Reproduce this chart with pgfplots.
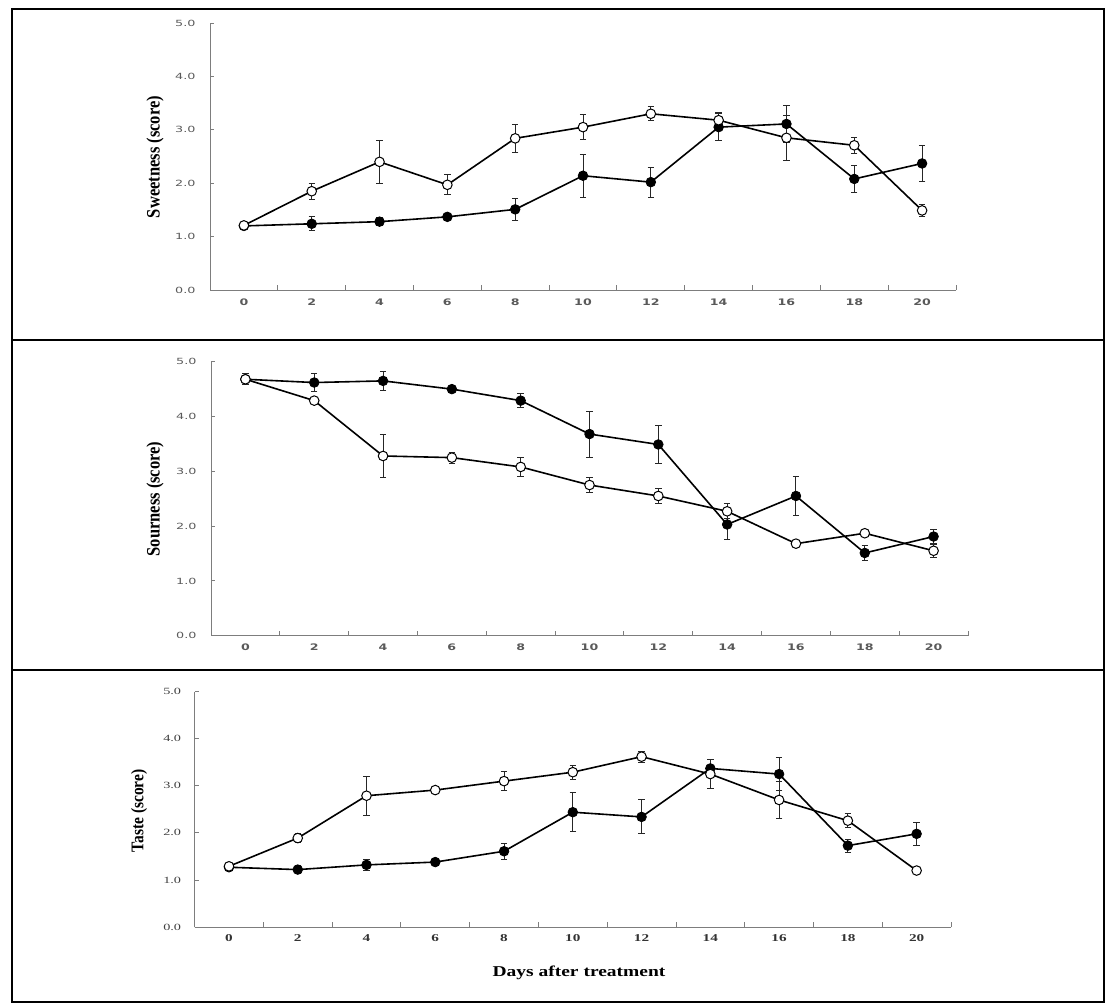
\documentclass[border=0pt]{standalone}
\usepackage{pgfplots}
\pgfplotsset{compat=1.18}
\usepackage{fontspec}
\setmainfont{Liberation Serif}
\newfontfamily\dejavu{DejaVu Sans}
\definecolor{axgray}{RGB}{125,125,125}
\definecolor{lblgray}{RGB}{90,90,90}

% tick label helpers
\newcommand\sx[1]{\textcolor{lblgray}{\scalebox{1.4}[1]{\dejavu\bfseries\fontsize{9}{10}\selectfont #1}}}
\newcommand\sy[1]{\textcolor{lblgray}{\scalebox{1.5}[1]{\dejavu\fontsize{8.5}{9}\selectfont #1}}}
\newcommand\tx[1]{\textcolor{black!80}{\scalebox{1.45}[1]{\bfseries\fontsize{10.5}{11}\selectfont #1}}}
\newcommand\ty[1]{\textcolor{black!75}{\scalebox{1.5}[1]{\fontsize{9.5}{10}\selectfont #1}}}

\pgfplotsset{
  panel/.style={
    scale only axis, anchor=south west,
    xmin=-1, xmax=21, ymin=0, ymax=5,
    axis lines=left,
    axis line style={-, draw=axgray, line width=0.9pt},
    xtick={0,2,...,20},
    minor xtick={1,3,...,21},
    major x tick style={draw=none},
    ytick={0,1,...,5},
    tick style={draw=axgray, line width=0.9pt},
    major tick length=4pt, minor tick length=5pt,
    tick align=inside,
    clip=false,
  },
  sanslabels/.style={
    xticklabels={\sx{0},\sx{2},\sx{4},\sx{6},\sx{8},\sx{10},\sx{12},\sx{14},\sx{16},\sx{18},\sx{20}},
    yticklabels={\sy{0.0},\sy{1.0},\sy{2.0},\sy{3.0},\sy{4.0},\sy{5.0}},
    xticklabel style={yshift=-5pt},
    yticklabel style={xshift=-11pt},
  },
  seriflabels/.style={
    xticklabels={\tx{0},\tx{2},\tx{4},\tx{6},\tx{8},\tx{10},\tx{12},\tx{14},\tx{16},\tx{18},\tx{20}},
    yticklabels={\ty{0.0},\ty{1.0},\ty{2.0},\ty{3.0},\ty{4.0},\ty{5.0}},
    xticklabel style={yshift=-4pt},
    yticklabel style={xshift=-10pt},
  },
  fser/.style={black, line width=1.6pt, mark=*, mark size=4.8pt,
    mark options={fill=black, draw=black, line width=0.8pt},
    error bars/.cd, y dir=both, y explicit,
    error bar style={line width=1pt, black!85},
    error mark options={rotate=90, mark size=3.2pt, line width=1pt, black!85}},
  oser/.style={black, line width=1.6pt, mark=*, mark size=4.8pt,
    mark options={fill=white, draw=black, line width=1pt},
    error bars/.cd, y dir=both, y explicit,
    error bar style={line width=1pt, black!85},
    error mark options={rotate=90, mark size=3.2pt, line width=1pt, black!85}},
}

\begin{document}
\begin{tikzpicture}
\useasboundingbox (0pt,0pt) rectangle (1108pt,-1005pt);
\fill[white] (0pt,0pt) rectangle (1108pt,-1005pt);

% ---------- Panel 1: Sweetness ----------
\begin{axis}[panel, sanslabels, at={(210pt,-290pt)}, width=746pt, height=267pt]
\addplot[fser] coordinates {
 (0,1.20) +- (0,0.05) (2,1.24) +- (0,0.13) (4,1.28) +- (0,0.08) (6,1.37) +- (0,0.03)
 (8,1.51) +- (0,0.20) (10,2.14) +- (0,0.40) (12,2.02) +- (0,0.28) (14,3.05) +- (0,0.25)
 (16,3.11) +- (0,0.34) (18,2.08) +- (0,0.25) (20,2.37) +- (0,0.34)};
\addplot[oser] coordinates {
 (0,1.21) +- (0,0.08) (2,1.85) +- (0,0.15) (4,2.40) +- (0,0.40) (6,1.97) +- (0,0.19)
 (8,2.84) +- (0,0.26) (10,3.05) +- (0,0.24) (12,3.30) +- (0,0.13) (14,3.18) +- (0,0.15)
 (16,2.85) +- (0,0.42) (18,2.71) +- (0,0.15) (20,1.49) +- (0,0.11)};
\end{axis}

% ---------- Panel 2: Sourness ----------
\begin{axis}[panel, sanslabels, at={(211pt,-635.7pt)}, width=757pt, height=274pt]
\addplot[fser] coordinates {
 (0,4.68) +- (0,0.10) (2,4.62) +- (0,0.16) (4,4.65) +- (0,0.17) (6,4.50) +- (0,0.07)
 (8,4.29) +- (0,0.13) (10,3.68) +- (0,0.42) (12,3.49) +- (0,0.35) (14,2.03) +- (0,0.27)
 (16,2.55) +- (0,0.35) (18,1.51) +- (0,0.14) (20,1.81) +- (0,0.13)};
\addplot[oser] coordinates {
 (0,4.68) +- (0,0.10) (2,4.29) +- (0,0.05) (4,3.28) +- (0,0.39) (6,3.25) +- (0,0.10)
 (8,3.08) +- (0,0.17) (10,2.75) +- (0,0.13) (12,2.55) +- (0,0.13) (14,2.27) +- (0,0.14)
 (16,1.68) +- (0,0.06) (18,1.87) +- (0,0.06) (20,1.55) +- (0,0.12)};
\end{axis}

% ---------- Panel 3: Taste ----------
\begin{axis}[panel, seriflabels, at={(194.6pt,-927pt)}, width=756.4pt, height=235.3pt]
\addplot[fser] coordinates {
 (0,1.27) +- (0,0.05) (2,1.22) +- (0,0.08) (4,1.32) +- (0,0.12) (6,1.38) +- (0,0.07)
 (8,1.61) +- (0,0.17) (10,2.44) +- (0,0.42) (12,2.34) +- (0,0.36) (14,3.37) +- (0,0.20)
 (16,3.25) +- (0,0.35) (18,1.73) +- (0,0.14) (20,1.98) +- (0,0.25)};
\addplot[oser] coordinates {
 (0,1.29) +- (0,0.05) (2,1.89) +- (0,0.10) (4,2.79) +- (0,0.41) (6,2.91) +- (0,0.03)
 (8,3.10) +- (0,0.20) (10,3.29) +- (0,0.15) (12,3.62) +- (0,0.12) (14,3.25) +- (0,0.30)
 (16,2.70) +- (0,0.40) (18,2.26) +- (0,0.15) (20,1.20) +- (0,0.05)};
\end{axis}

% ---------- labels ----------
\node[rotate=90, font=\bfseries\fontsize{16.5}{18}\selectfont] at (155pt,-157pt) {\scalebox{1}[1.15]{Sweetness (score)}};
\node[rotate=90, font=\bfseries\fontsize{16.5}{18}\selectfont] at (155pt,-499pt) {\scalebox{1}[1.15]{Sourness (score)}};
\node[rotate=90, font=\bfseries\fontsize{15.5}{17}\selectfont] at (139pt,-811pt) {\scalebox{1}[1.15]{Taste (score)}};
\node[font=\bfseries\fontsize{15}{16}\selectfont] at (579pt,-973pt) {\scalebox{1.3}[1]{Days after treatment}};

% ---------- frames ----------
\draw[line width=1.2pt] (12pt,-9pt) rectangle (1104pt,-1002pt);
\draw[line width=1.2pt] (12pt,-340pt) -- (1104pt,-340pt);
\draw[line width=1.2pt] (12pt,-670pt) -- (1104pt,-670pt);
\end{tikzpicture}
\end{document}
